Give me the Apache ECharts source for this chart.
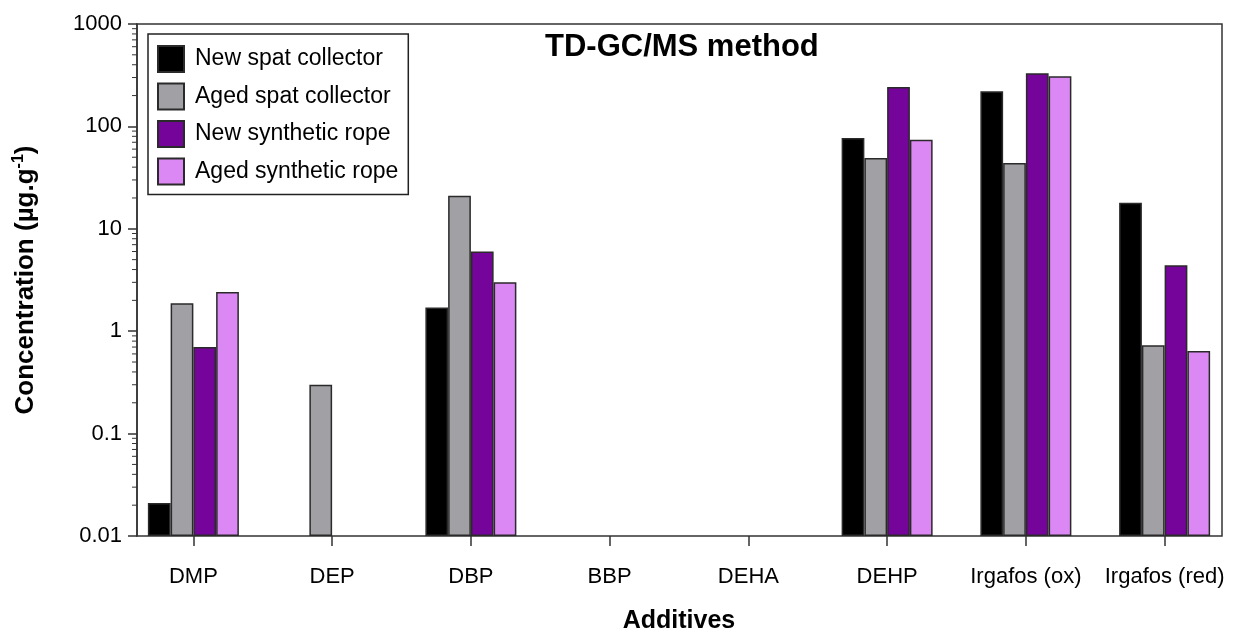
<!DOCTYPE html>
<html><head><meta charset="utf-8">
<script src="https://cdn.jsdelivr.net/npm/echarts@6/dist/echarts.min.js"></script>
<style>html,body{margin:0;padding:0;background:#fff}#c{width:1234px;height:631px}</style>
</head><body><div id="c"></div>
<script>
const categories = ['DMP','DEP','DBP','BBP','DEHA','DEHP','Irgafos (ox)','Irgafos (red)'];
const seriesNames = ['New spat collector','Aged spat collector','New synthetic rope','Aged synthetic rope'];
const newSpat   = [0.021, null, 1.7, null, null, 77, 220, 18];
const agedSpat  = [1.87, 0.30, 21, null, null, 49, 44, 0.73];
const newRope   = [0.70, null, 6.0, null, null, 243, 330, 4.4];
const agedRope  = [2.41, null, 3.0, null, null, 74, 308, 0.64];
const yTicks = [0.01, 0.1, 1, 10, 100, 1000];
const minorMultipliers = [2, 3, 4, 5, 6, 7, 8, 9];

const colors = ['#000000','#a1a0a5','#74049a','#dc88f4'];
const FONT = 'Liberation Sans, Arial, sans-serif';
const chart = echarts.init(document.getElementById('c'));
const dataSets = [newSpat, agedSpat, newRope, agedRope];

// minor tick values (log-spaced) between the major ticks
const minorTickValues = [];
yTicks.slice(0, -1).forEach(d => minorMultipliers.forEach(m => minorTickValues.push([0, +(d * m).toPrecision(6)])));

chart.setOption({
  animation: false,
  textStyle: {fontFamily: FONT, color: '#000'},
  title: {
    text: 'TD-GC/MS method', left: 545, top: 32, padding: 0,
    textStyle: {fontFamily: FONT, fontSize: 31, fontWeight: 'bold', color: '#000'}
  },
  legend: {
    orient: 'vertical', left: 148, top: 34,
    padding: [11, 10, 9, 9],
    itemWidth: 26, itemHeight: 26, itemGap: 9.5,
    borderColor: '#222', borderWidth: 1.5, backgroundColor: '#fff',
    icon: 'rect',
    textStyle: {fontFamily: FONT, fontSize: 23, color: '#000', padding: [0, 0, 0, 6]},
    data: seriesNames
  },
  grid: [
    {left: 137, right: 12, top: 24, bottom: 95, show: true, borderColor: '#333', borderWidth: 1.5, backgroundColor: 'transparent', containLabel: false, outerBoundsMode: 'none'},
    {left: 124, right: 0, top: 24, bottom: 95, containLabel: false, outerBoundsMode: 'none'}
  ],
  xAxis: [
    {gridIndex: 0, type: 'value', min: 0, max: 1, show: false},
    {gridIndex: 1, type: 'category', data: categories,
     axisLine: {show: false},
     axisTick: {show: true, alignWithLabel: true, interval: 0, length: 10, lineStyle: {color: '#333', width: 1.5}},
     axisLabel: {fontFamily: FONT, fontSize: 22, color: '#000', margin: 30, interval: 0},
     name: 'Additives', nameLocation: 'middle', nameGap: 73,
     nameTextStyle: {fontFamily: FONT, fontSize: 25, fontWeight: 'bold', color: '#000'}
    }
  ],
  yAxis: [
    {gridIndex: 0, type: 'log', logBase: 10, min: 0.01, max: 1000,
     axisLine: {show: true, lineStyle: {color: '#333', width: 1.5}},
     axisTick: {show: true, length: 9, lineStyle: {color: '#333', width: 1.5}},
     minorTick: {show: false},
     splitLine: {show: false},
     axisLabel: {fontFamily: FONT, fontSize: 22, color: '#000', margin: 15,
       formatter: v => { const t = yTicks.find(x => Math.abs(x - v) / x < 1e-6); return t !== undefined ? String(t) : ''; }},
     name: '{a|Concentration (µg.g}{s|-1}{a|)}', nameLocation: 'middle', nameGap: 97,
     nameTextStyle: {rich: {
       a: {fontFamily: FONT, fontSize: 26, fontWeight: 'bold', color: '#000'},
       s: {fontFamily: FONT, fontSize: 16, fontWeight: 'bold', color: '#000', verticalAlign: 'top', padding: [0, 0, 13, 0]}
     }}
    },
    {gridIndex: 1, type: 'log', logBase: 10, min: 0.01, max: 1000, startValue: 0.01, show: false,
     axisLine: {show: false}, axisTick: {show: false}, axisLabel: {show: false}, splitLine: {show: false}}
  ],
  series: seriesNames.map((name, i) => ({
    name, type: 'bar', xAxisIndex: 1, yAxisIndex: 1,
    barWidth: 22.75, barGap: '0%', clip: true,
    itemStyle: {color: colors[i], borderColor: '#2a2a2a', borderWidth: 1.5},
    data: dataSets[i].map(v => v === null ? '-' : v)
  })).concat([{
    type: 'custom', name: 'minorTicks', xAxisIndex: 0, yAxisIndex: 0, clip: false, silent: true,
    data: minorTickValues,
    renderItem: (params, api) => {
      const p = api.coord([api.value(0), api.value(1)]);
      return {type: 'line', shape: {x1: p[0] - 5, y1: p[1], x2: p[0], y2: p[1]}, style: {stroke: '#333', lineWidth: 1}};
    }
  }])
});
</script></body></html>
